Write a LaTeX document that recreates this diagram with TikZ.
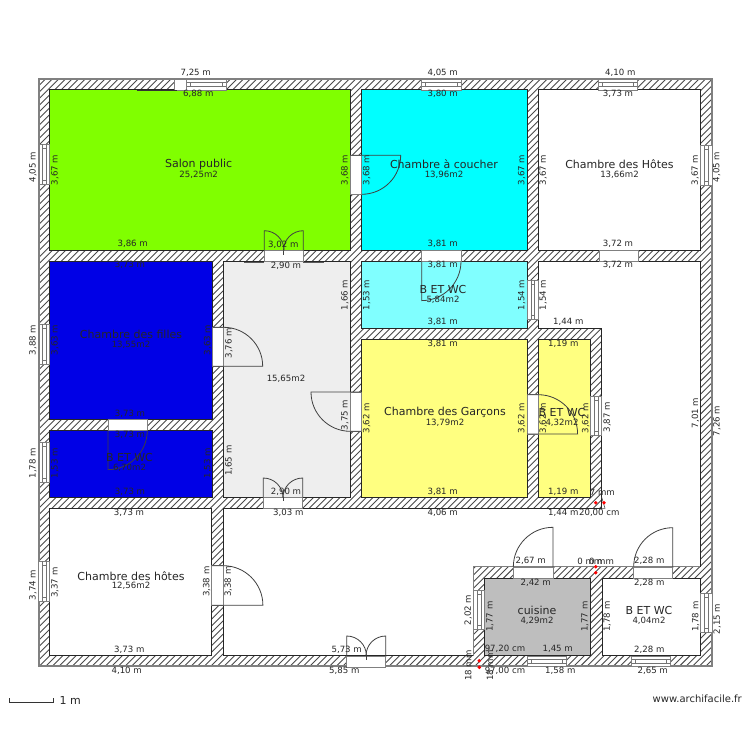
\documentclass[tikz,border=0pt]{standalone}
\usepackage{fontspec}
\setmainfont{DejaVu Sans}
\definecolor{wallc}{HTML}{4A4A4A}
\definecolor{edgec}{HTML}{808080}
\definecolor{txtc}{HTML}{262626}
\definecolor{vert}{HTML}{80FF00}
\definecolor{cyanA}{HTML}{00FFFF}
\definecolor{cyanB}{HTML}{80FFFF}
\definecolor{bleu}{HTML}{0000E6}
\definecolor{jaune}{HTML}{FFFF80}
\definecolor{grisA}{HTML}{EEEEEE}
\definecolor{grisB}{HTML}{BEBEBE}
\newcounter{tc}
\tikzset{
  room/.style={draw=black!85,line width=0.8pt},
  opening/.style={draw=edgec,fill=white,line width=0.7pt},
  leaf/.style={draw=black!75,line width=0.8pt},
  winline/.style={draw=black!55,line width=0.6pt},
  dim/.style={font=\fontsize{8.6}{9}\selectfont,text=txtc,inner sep=0pt},
  vdim/.style={dim,rotate=90},
  rname/.style={font=\fontsize{11}{12}\selectfont,text=txtc,inner sep=0pt},
  rarea/.style={font=\fontsize{8.6}{9}\selectfont,text=txtc,inner sep=0pt},
  reddot/.style={fill=red,draw=none},
  slide/.style={draw=black!80,line width=1.6pt}
}
\newcommand{\HD}[3]{\stepcounter{tc}\node[dim] (t\arabic{tc}) at (#1,#2) {#3};}
\newcommand{\VD}[3]{\stepcounter{tc}\node[vdim] (t\arabic{tc}) at (#1,#2) {#3};}
\newcommand{\RN}[4]{\stepcounter{tc}\node[rname] (t\arabic{tc}) at (#1,#2) {#3};\stepcounter{tc}\node[rarea] (t\arabic{tc}) at (#1,#2+10.4) {#4};}
% horizontal window: x1 x2 y1 y2
\newcommand{\HW}[4]{%
  \pgfmathsetmacro{\wa}{#3+(#4-#3)/3}\pgfmathsetmacro{\wb}{#3+2*(#4-#3)/3}%
  \pgfmathsetmacro{\wl}{#1+4}\pgfmathsetmacro{\wr}{#2-4}%
  \draw[opening] (#1,#3) rectangle (#2,#4);
  \draw[winline] (\wl,\wa) rectangle (\wr,\wb);
  \draw[winline] (#1,\wa) -- (\wl,\wa) (#1,\wb) -- (\wl,\wb) (\wr,\wa) -- (#2,\wa) (\wr,\wb) -- (#2,\wb);}
\newcommand{\VW}[4]{%
  \pgfmathsetmacro{\wa}{#1+(#2-#1)/3}\pgfmathsetmacro{\wb}{#1+2*(#2-#1)/3}%
  \pgfmathsetmacro{\wl}{#3+4}\pgfmathsetmacro{\wr}{#4-4}%
  \draw[opening] (#1,#3) rectangle (#2,#4);
  \draw[winline] (\wa,\wl) rectangle (\wb,\wr);
  \draw[winline] (\wa,#3) -- (\wa,\wl) (\wb,#3) -- (\wb,\wl) (\wa,\wr) -- (\wa,#4) (\wb,\wr) -- (\wb,#4);}
\newcommand{\OP}[4]{\draw[opening] (#1,#3) rectangle (#2,#4);}
\begin{document}
\begin{tikzpicture}[x=1pt,y=-1pt]
\useasboundingbox (0,0) rectangle (750,750);
% hatched walls
\begin{scope}
\clip (39,79) rectangle (712,666);
\foreach \i in {-548,-541.4,...,712} {\draw[wallc,line width=0.9pt] (\i,666) -- ({\i+587},79);}
\end{scope}
\draw[edgec,line width=1.1pt] (39,79) rectangle (712,666);
% rooms
\draw[room,fill=vert] (49.5,89.5) rectangle (350,250.5);
\draw[room,fill=cyanA] (361.7,89.5) rectangle (527,250.5);
\draw[room,fill=white] (538.3,89.5) rectangle (700.3,250.5);
\draw[room,fill=cyanB] (361.7,261.3) rectangle (527.3,328.3);
\draw[room,fill=bleu] (49.5,261) rectangle (212.7,419.7);
\draw[room,fill=bleu] (49.5,430.3) rectangle (212.7,497.5);
\draw[room,fill=grisA] (223.7,261.3) rectangle (350,497.3);
\draw[room,fill=jaune] (361.7,339.3) rectangle (527.3,497.3);
\draw[room,fill=jaune] (538.3,339.3) rectangle (590.3,497.3);
\draw[room,fill=white] (49.5,508.3) rectangle (211.7,655.7);
\draw[room,fill=grisB] (484.7,578.3) rectangle (590.3,655.7);
\draw[room,fill=white] (602,578.3) rectangle (700.3,655.7);
% corridor
\draw[room,fill=white] (538.3,261.3) -- (700.3,261.3) -- (700.3,566.7) -- (473.3,566.7) -- (473.3,655.7) -- (223.3,655.7) -- (223.3,508.3) -- (601.7,508.3) -- (601.7,328.3) -- (538.3,328.3) -- cycle;
\draw[edgec,line width=0.9pt] (473.3,566.7) -- (473.3,655.7) (473.3,566.7) -- (700.3,566.7);
% small corner marks
\draw[black!70,line width=0.6pt] (601.7,497.3) -- (605,508.3) -- (601.7,508.3);
% windows
\HW{186.3}{226}{79}{90}
\HW{421.7}{461}{79}{90}
\HW{598.7}{637.3}{79}{90}
\HW{527.7}{566.7}{656}{666.5}
\HW{631.7}{670.7}{656}{666.5}
\VW{39}{49.5}{144.3}{184.3}
\VW{39}{49.5}{324.3}{364}
\VW{39}{49.5}{442.7}{482.3}
\VW{38.5}{49.5}{561.3}{601}
\VW{700.3}{712}{145.7}{185}
\VW{527.3}{538.3}{280}{319.3}
\VW{590.3}{601.7}{396.7}{435.7}
\VW{473.3}{484.7}{590.7}{629.3}
\VW{700.3}{712}{593.3}{632.7}
% plain openings
\OP{174.3}{186.3}{79}{90}
\OP{599.7}{638.3}{250.5}{261.3}
\OP{350}{361.7}{155.3}{194.3}
\OP{264.3}{303.3}{250.5}{261.5}
\OP{421.7}{461}{250.5}{261.3}
\OP{212.7}{223.7}{327.3}{366.3}
\OP{350}{361.7}{392}{431.3}
\OP{108}{147.3}{419.7}{430.3}
\OP{263.3}{302.7}{497.3}{508.5}
\OP{527.3}{538.3}{394.7}{434}
\OP{513.3}{553}{567}{578.3}
\OP{633.7}{672.7}{567}{578.3}
\OP{211.7}{223.3}{565.7}{605.3}
\OP{346.7}{385.7}{656}{667}
% sliding rails
\draw[slide] (136.7,90.5) -- (176.7,90.5);
\draw[slide,draw=black!65] (244.3,262.3) -- (264.3,262.3) (303.3,262.3) -- (324,262.3);
% door leaves
\draw[leaf] (350,155.3) -- (400.7,155.3) arc[start angle=0,end angle=90,radius=39] -- (361.7,194.3);
\draw[leaf] (264.3,250.5) -- (264.3,230.7) arc[start angle=-90,end angle=0,radius=19.8];
\draw[leaf] (303.3,250.5) -- (303.3,230.7) arc[start angle=270,end angle=180,radius=19.8];
\draw[leaf] (283.8,250.5) -- (283.8,255);
\draw[leaf] (461,261.3) arc[start angle=0,end angle=90,radius=39.3] -- (421.7,261.3);
\draw[leaf] (212.7,327.3) -- (223.7,327.3) arc[start angle=-90,end angle=0,radius=39] -- (212.7,366.3);
\draw[leaf] (361.7,392) -- (311,392) arc[start angle=180,end angle=90,radius=39.3] -- (361.7,431.3);
\draw[leaf] (147.3,430.3) arc[start angle=0,end angle=90,radius=39.3] -- (108,430.3);
\draw[leaf] (263.3,497.3) -- (263.3,478) arc[start angle=-90,end angle=0,radius=19.7];
\draw[leaf] (302.7,497.3) -- (302.7,478) arc[start angle=270,end angle=180,radius=19.7];
\draw[leaf] (283,497.3) -- (283,501);
\draw[leaf] (527.3,394.7) -- (538.3,394.7) arc[start angle=-90,end angle=0,radius=39.3] -- (527.3,434);
\draw[leaf] (553,567) -- (553,527.3) arc[start angle=-90,end angle=-180,radius=39.7];
\draw[leaf] (672.7,567) -- (672.7,527.7) arc[start angle=-90,end angle=-180,radius=39];
\draw[leaf] (211.7,565.7) -- (223.3,565.7) arc[start angle=-90,end angle=0,radius=39.6] -- (211.7,605.3);
\draw[leaf] (346.7,656) -- (346.7,636) arc[start angle=-90,end angle=0,radius=19.7];
\draw[leaf] (385.7,656) -- (385.7,636) arc[start angle=270,end angle=180,radius=19.7];
\draw[leaf] (366.2,656) -- (366.2,660);
% red points
\foreach \px/\py in {595.7/502.7,604/502.7,595.7/566.7,595.7/572.7,479.3/660.7,479.3/667.3}
  {\fill[reddot] (\px,\py) circle (1.9);}
% room names
\RN{198.7}{164}{Salon public}{25,25m2}
\RN{444}{164}{Chambre à coucher}{13,96m2}
\RN{619.5}{164}{Chambre des Hôtes}{13,66m2}
\RN{443}{289.3}{B ET WC}{5,84m2}
\RN{131}{334.5}{Chambre des filles}{13,55m2}
\RN{129.5}{457.9}{B ET WC}{6,70m2}
\RN{445}{412.3}{Chambre des Garçons}{13,79m2}
\RN{562}{412.3}{B ET WC}{4,32m2}
\RN{131}{575.7}{Chambre des hôtes}{12,56m2}
\RN{537}{610.7}{cuisine}{4,29m2}
\RN{649}{610.7}{B ET WC}{4,04m2}
\stepcounter{tc}\node[rarea] (t\arabic{tc}) at (286,379) {15,65m2};
% horizontal dimensions
\HD{195.7}{73}{7,25 m}\HD{198.3}{94}{6,88 m}\HD{442.7}{73}{4,05 m}\HD{442.7}{94}{3,80 m}
\HD{620.3}{73}{4,10 m}\HD{618}{94}{3,73 m}
\HD{132.7}{244.3}{3,86 m}\HD{283.3}{244.5}{3,02 m}\HD{442.7}{244.3}{3,81 m}\HD{618}{244.3}{3,72 m}
\HD{130}{265.3}{3,73 m}\HD{286}{265.7}{2,90 m}\HD{442.7}{265.3}{3,81 m}\HD{618}{265.3}{3,72 m}
\HD{442.7}{322.3}{3,81 m}\HD{568.3}{322.3}{1,44 m}
\HD{442.7}{344}{3,81 m}\HD{563.3}{344}{1,19 m}
\HD{130}{414.3}{3,73 m}\HD{130}{435}{3,73 m}
\HD{130}{491.7}{3,73 m}\HD{286}{491.7}{2,90 m}\HD{442.7}{492}{3,81 m}\HD{563.3}{492}{1,19 m}\HD{602.3}{492}{7 mm}
\HD{129}{512.7}{3,73 m}\HD{288.3}{512.7}{3,03 m}\HD{442.7}{512.7}{4,06 m}\HD{563.3}{512.7}{1,44 m}\HD{599.3}{512.7}{20,00 cm}
\HD{530.7}{561}{2,67 m}\HD{589.8}{561}{0 mm}\HD{601.5}{561}{0 mm}\HD{649.3}{561}{2,28 m}
\HD{535.7}{582.7}{2,42 m}\HD{649.3}{582.7}{2,28 m}
\HD{129.3}{650}{3,73 m}\HD{346.7}{650}{5,73 m}\HD{505}{649}{97,20 cm}\HD{557.7}{649}{1,45 m}\HD{649.3}{650}{2,28 m}
\HD{126.7}{671}{4,10 m}\HD{344.3}{671}{5,85 m}\HD{505}{671}{97,00 cm}\HD{560.3}{671}{1,58 m}\HD{652.7}{671}{2,65 m}
% vertical dimensions
\VD{33}{167.3}{4,05 m}\VD{55}{170}{3,67 m}\VD{345}{170}{3,68 m}\VD{366.7}{170}{3,68 m}
\VD{521.7}{170}{3,67 m}\VD{543.3}{170}{3,67 m}\VD{695.3}{170}{3,67 m}\VD{716.7}{167}{4,05 m}
\VD{345}{295}{1,66 m}\VD{366.7}{295}{1,53 m}\VD{521.7}{295}{1,54 m}\VD{543.3}{295}{1,54 m}
\VD{33}{340}{3,88 m}\VD{55}{340}{3,63 m}\VD{207.7}{340}{3,63 m}\VD{229}{343.3}{3,76 m}
\VD{345}{415}{3,75 m}\VD{366.7}{418.3}{3,62 m}\VD{521.7}{418.3}{3,62 m}\VD{543.3}{418.3}{3,62 m}
\VD{585.7}{418.3}{3,62 m}\VD{607.3}{417.3}{3,87 m}
\VD{695.5}{413}{7,01 m}\VD{717}{421}{7,26 m}
\VD{33}{463.3}{1,78 m}\VD{55}{463.3}{1,53 m}\VD{207.7}{463.3}{1,53 m}\VD{229}{460.7}{1,65 m}
\VD{33}{585}{3,74 m}\VD{55}{582.7}{3,37 m}\VD{206.7}{581.7}{3,38 m}\VD{228.3}{581.7}{3,38 m}
\VD{468.3}{610}{2,02 m}\VD{490}{616.7}{1,77 m}\VD{585}{616.7}{1,77 m}\VD{607.3}{616.7}{1,78 m}
\VD{695.7}{616.7}{1,78 m}\VD{717.3}{619}{2,15 m}
\VD{468.3}{665.7}{18 mm}\VD{490}{665.7}{18 mm}
% scale
\coordinate (sa) at (9,698);
\coordinate (sb) at (53.3,698);
\draw[black!80,line width=0.8pt] (sa) -- (9,702) -- (53.3,702) -- (sb);
\node[rname,anchor=west] (echelle) at (59.5,700) {1 m};
\node[font=\fontsize{10}{11}\selectfont,text=txtc,inner sep=0pt,anchor=east] (site) at (742,699) {www.archifacile.fr};
\end{tikzpicture}
\end{document}
